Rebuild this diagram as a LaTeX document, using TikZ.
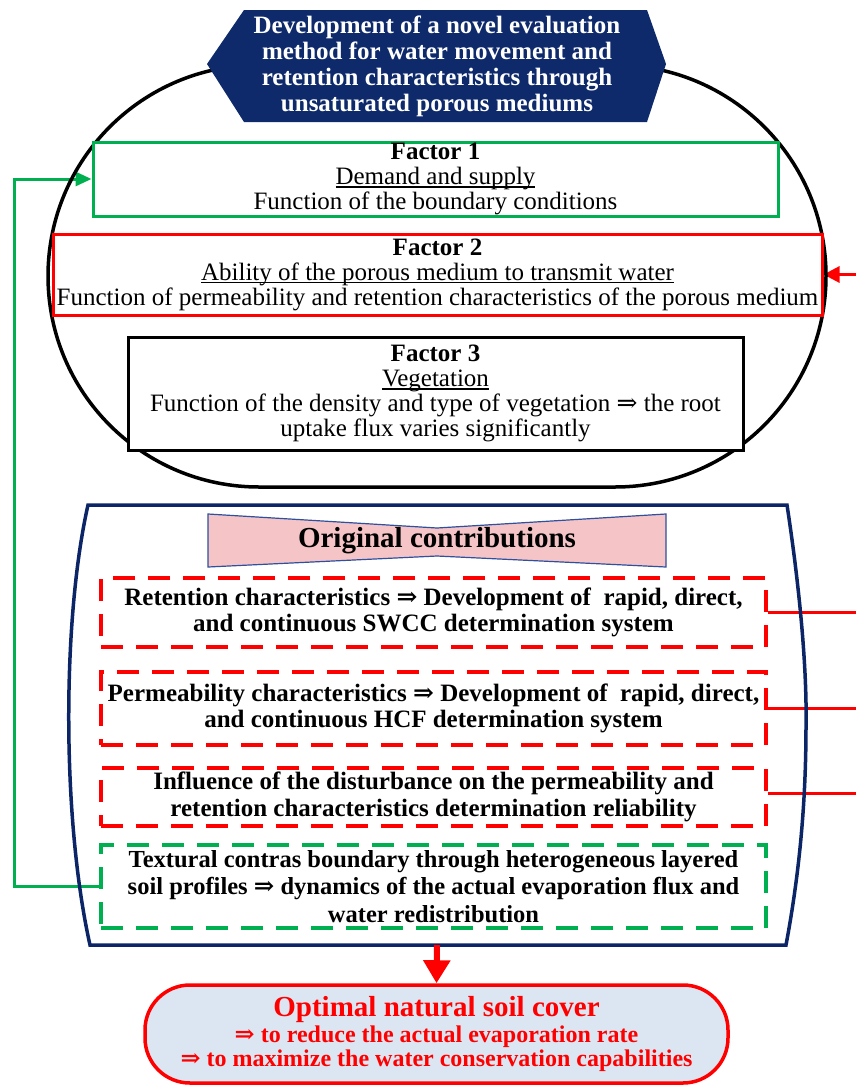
\documentclass[tikz,border=0pt]{standalone}
\usepackage{fontspec}
\setmainfont{Liberation Serif}
\newfontfamily\arrfont{DejaVu Serif}
\newcommand{\imp}{{\arrfont ⇒}}
\usetikzlibrary{arrows.meta,backgrounds}
\definecolor{navy}{HTML}{0E2A6B}
\definecolor{frameblue}{HTML}{0B2566}
\definecolor{gr}{HTML}{00B050}
\definecolor{rd}{HTML}{FF0000}
\definecolor{pinkf}{HTML}{F4C4C6}
\definecolor{lightb}{HTML}{DCE6F2}
\definecolor{bowborder}{HTML}{2F4F9F}
\newcommand{\myul}[1]{\setbox0=\hbox{#1}\leavevmode\rlap{\rule[-3pt]{\wd0}{1.2pt}}\box0}
\begin{document}
\begin{tikzpicture}[x=1pt,y=-1pt,
  factorbox/.style={draw, line width=3pt, fill=white, align=center, inner sep=0pt,
    font=\fontsize{25}{25}\selectfont},
  dashbox/.style={draw=#1, line width=4pt, dash pattern=on 22pt off 13pt, fill=white,
    align=center, inner sep=0pt, minimum width=665pt,
    font=\bfseries\fontsize{25}{26.5}\selectfont},
  redline/.style={rd, line width=3pt},
  greenline/.style={gr, line width=3pt}]
\useasboundingbox (0,0) rectangle (856,1087);
\begin{pgfonlayer}{background}
\fill[white] (0,0) rectangle (856,1087);
\end{pgfonlayer}

% big rounded outline
\draw[line width=3.5pt, rounded corners=211pt] (48,65) rectangle (826,487);
% title hexagon
\fill[navy] (207,64) -- (244,10) -- (647,10) -- (666,64) -- (647,122) -- (244,122) -- cycle;
\node[text=white, align=center, font=\bfseries\fontsize{25}{26}\selectfont] (title) at (437,66)
  {Development of a novel evaluation\\method for water movement and\\retention characteristics through\\unsaturated porous mediums};

% factors
\node[factorbox, draw=gr, minimum width=685pt, minimum height=74pt] (f1) at (435.5,179)
  {\textbf{Factor 1}\\\myul{Demand and supply}\\Function of the boundary conditions};
\node[factorbox, draw=rd, minimum width=769pt, minimum height=81pt] (f2) at (437.5,274.5)
  {\textbf{Factor 2}\\\myul{Ability of the porous medium to transmit water}\\Function of permeability and retention characteristics of the porous medium};
\node[factorbox, draw=black, minimum width=615pt, minimum height=113pt] (f3) at (435.5,393.5)
  {\textbf{Factor 3}\\\myul{Vegetation}\\Function of the density and type of vegetation \imp{} the root\\uptake flux varies significantly};

% contributions frame
\draw[frameblue, line width=3.5pt, line join=miter] (88,505) -- (787,505)
  .. controls (800,590) and (807,670) .. (806,725)
  .. controls (806,800) and (800,870) .. (786,945) -- (90,945)
  .. controls (62,820) and (62,620) .. (88,505) -- cycle;
\coordinate (fb) at (437,945);

\fill[pinkf, draw=bowborder, line width=1.2pt] (208,514) -- (437,528) -- (666,514) -- (666,567) -- (437,556) -- (208,567) -- cycle;
\node[font=\bfseries\fontsize{29}{30}\selectfont] (oc) at (437,541) {Original contributions};

\node[dashbox=rd, minimum height=69pt] (d1) at (433.5,612.5)
  {Retention characteristics \imp{} Development of \ rapid, direct,\\and continuous SWCC determination system};
\node[dashbox=rd, minimum height=73pt] (d2) at (433.5,708.5)
  {Permeability characteristics \imp{} Development of \ rapid, direct,\\and continuous HCF determination system};
\node[dashbox=rd, minimum height=58pt] (d3) at (433.5,797)
  {Influence of the disturbance on the permeability and\\retention characteristics determination reliability};
\node[dashbox=gr, minimum height=83pt, font=\bfseries\fontsize{24.5}{27.5}\selectfont] (d4) at (433.5,886.5)
  {Textural contras boundary through heterogeneous layered\\soil profiles \imp{} dynamics of the actual evaporation flux and\\water redistribution};

% result
\node[draw=rd, line width=3.5pt, fill=lightb, rounded corners=45pt, minimum width=583pt,
  minimum height=98pt, inner sep=0pt, text=rd, align=center, font=\bfseries] (res) at (436.5,1034)
  {{\fontsize{29}{29}\selectfont Optimal natural soil cover}\\[2pt]
   {\fontsize{24}{27}\selectfont \imp{} to reduce the actual evaporation rate}\\[2pt]
   {\fontsize{24}{27}\selectfont \imp{} to maximize the water conservation capabilities}};

% connectors
\coordinate (gl) at (14,886.5);
\coordinate (r2) at (856,274.5);
\coordinate (r1e) at (856,612.5);
\coordinate (r2e) at (856,708.5);
\coordinate (r3e) at (856,793);
\begin{pgfonlayer}{background}
\draw[greenline, -{Triangle[length=16pt,width=14pt]}] (d4.west) -- (gl) |- (f1.west);
\draw[redline, -{Triangle[length=16pt,width=16pt]}] (r2) -- (f2.east);
\draw[redline] (d1.east) -- (r1e);
\draw[redline] (d2.east) -- (r2e);
\draw[redline] (d3.east |- r3e) -- (r3e);
\end{pgfonlayer}
\draw[rd, line width=6pt, -{Triangle[length=23pt,width=26pt]}] (fb) -- (res.north);
\end{tikzpicture}
\end{document}
